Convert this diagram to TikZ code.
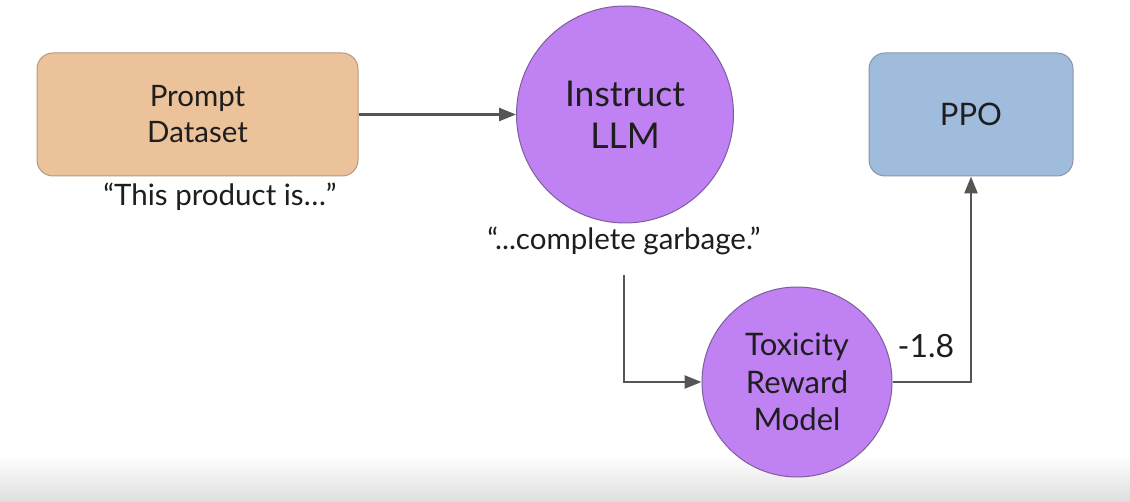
\documentclass[tikz,border=0pt]{standalone}
\usepackage{fontspec}
\setmainfont{Lato}
\usetikzlibrary{arrows.meta,shapes.geometric}
\definecolor{peach}{HTML}{EBC299}
\definecolor{peachline}{HTML}{B39A80}
\definecolor{lav}{HTML}{C081F2}
\definecolor{lavline}{HTML}{7E5E9E}
\definecolor{bluebox}{HTML}{A0BCDC}
\definecolor{blueline}{HTML}{8696AA}
\definecolor{arrowgray}{HTML}{555555}
\definecolor{txt}{HTML}{1E1E1E}
\tikzset{
  boxnode/.style={rectangle, rounded corners=16pt, minimum width=321pt, minimum height=123pt, line width=1pt, align=center, text=txt, font=\fontsize{29.5}{36}\selectfont, inner sep=0pt},
  circnode/.style={circle, line width=1pt, align=center, text=txt, inner sep=0pt},
  label/.style={text=txt, font=\fontsize{29.5}{34}\selectfont, inner sep=0pt},
  arr/.style={draw=arrowgray, line width=2.5pt, -{Triangle[length=17pt,width=13pt]}},
}
\begin{document}
\begin{tikzpicture}[x=1pt,y=-1pt]
\useasboundingbox (0,0) rectangle (1130,502);
\fill[white] (0,0) rectangle (1130,502);
\shade[top color=white, bottom color=black!13, draw=none] (0,455) rectangle (1130,502);

\node[boxnode, fill=peach, draw=peachline] (prompt) at (197.5,114.5) {Prompt\\Dataset};
\node[boxnode, fill=bluebox, draw=blueline, minimum width=204pt, font=\fontsize{31}{36}\selectfont] (ppo) at (971,114.5) {PPO};
\node[circnode, fill=lav, draw=lavline, minimum size=217pt, font=\fontsize{35.5}{42}\selectfont] (llm) at (625,114.5) {Instruct\\LLM};
\node[circnode, fill=lav, draw=lavline, minimum size=190pt, font=\fontsize{31}{37.5}\selectfont] (tox) at (797,382) {Toxicity\\Reward\\Model};

\node[label] (q1) at (220,197) {“This product is…”};
\node[label] (q2) at (624,241) {“...complete garbage.”};
\node[label, font=\fontsize{32}{34}\selectfont] (score) at (926,346) {-1.8};

\coordinate (c1) at (624,275);

\draw[arr] (prompt.east) -- (llm.west);
\draw[arr] (c1) |- (tox.west);
\draw[arr] (tox.east) -| (ppo.south);
\end{tikzpicture}
\end{document}
